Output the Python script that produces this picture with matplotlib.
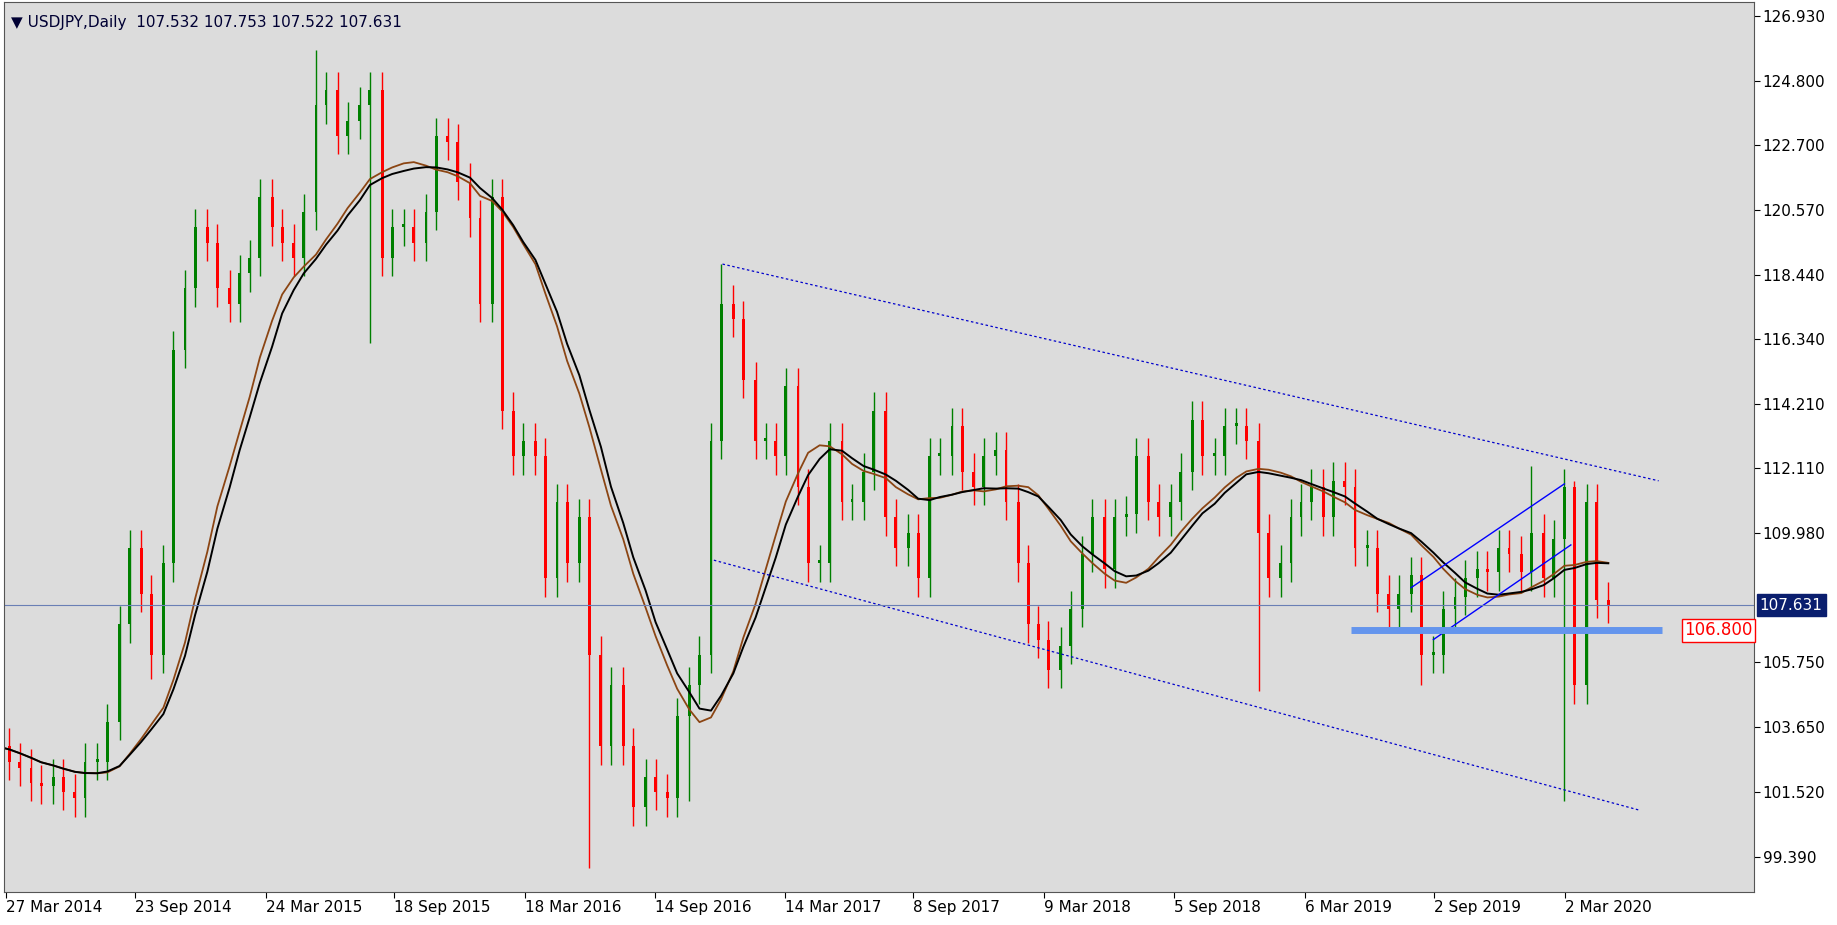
import matplotlib
matplotlib.use("Agg")
import matplotlib.pyplot as plt
import matplotlib.dates as mdates
import numpy as np
import pandas as pd

closes = [103.0,
 102.5,102.3,101.8,101.7,102.0,101.5,101.3,102.5,102.5,103.8,107.0,109.5,108.0,106.0,109.0,116.0,118.0,120.0,119.5,
 118.0,117.5,118.5,119.0,121.0,120.0,119.5,119.0,120.5,124.0,124.5,123.0,123.5,124.0,124.5,119.0,120.0,120.0,119.5,120.5,123.0,122.8,121.5,120.3,
 117.5,121.0,114.0,112.5,113.0,112.5,108.5,111.0,109.0,110.5,106.0,103.0,105.0,103.0,101.0,102.0,101.5,101.3,104.0,105.0,106.0,113.0,117.5,117.0,
 115.0,113.0,113.0,112.5,114.8,111.5,109.0,109.0,113.0,111.0,111.0,112.0,114.0,110.5,109.5,110.0,108.5,112.5,112.5,113.5,112.0,111.5,112.5,112.7,
 111.0,109.0,107.0,106.5,105.5,106.3,107.5,109.3,110.5,108.8,110.5,110.6,112.5,111.0,110.5,111.0,112.0,113.7,112.5,112.5,113.5,113.5,113.0,110.0,
 108.5,109.0,110.5,111.0,111.5,110.5,111.7,111.5,109.5,109.5,108.0,107.5,108.0,108.6,106.0,106.0,107.5,107.9,108.5,108.8,108.7,109.5,109.3,108.7,
 110.0,108.5,109.8,111.5,105.0,111.0,107.8,107.631]
spike_lows = {"2014-10-15": 105.2, "2015-08-15": 116.2, "2016-06-15": 99.0, "2016-11-01": 101.2,
              "2019-01-01": 104.8, "2019-08-15": 105.0, "2020-03-01": 101.2}
spike_highs = {"2015-06-01": 125.8, "2016-12-15": 118.8, "2020-01-15": 112.2, "2020-03-15": 111.7}
yticks = [126.930,124.800,122.700,120.570,118.440,116.340,114.210,112.110,109.980,105.750,103.650,101.520,99.390]
date_labels = ["27 Mar 2014","23 Sep 2014","24 Mar 2015","18 Sep 2015","18 Mar 2016","14 Sep 2016",
               "14 Mar 2017","8 Sep 2017","9 Mar 2018","5 Sep 2018","6 Mar 2019","2 Sep 2019","2 Mar 2020"]
date_pos = ["2014-03-27","2014-09-23","2015-03-24","2015-09-18","2016-03-18","2016-09-14",
            "2017-03-14","2017-09-08","2018-03-09","2018-09-05","2019-03-06","2019-09-02","2020-03-02"]

dates = pd.date_range("2014-03-15", periods=len(closes), freq="SMS")
s = pd.Series(closes, index=dates)
opens = s.shift(1).fillna(s.iloc[0])
highs = np.maximum(opens, s) + 0.6
lows = np.minimum(opens, s) - 0.6
for d, v in spike_lows.items():
    i = dates.get_indexer([pd.Timestamp(d)], method="nearest")[0]; lows.iloc[i] = v
for d, v in spike_highs.items():
    i = dates.get_indexer([pd.Timestamp(d)], method="nearest")[0]; highs.iloc[i] = v

fig = plt.figure(figsize=(18.37, 9.25), dpi=100, facecolor="white")
ax = fig.add_axes([0.002, 0.036, 0.953, 0.962])
ax.set_facecolor("#dcdcdc")
x = mdates.date2num(dates)
for xi, o, c, h, l in zip(x, opens, s, highs, lows):
    col = "#008000" if c >= o else "#ff0000"
    ax.vlines(xi, l, h, color=col, lw=1)
    ax.bar(xi, abs(c - o) if abs(c-o) > 0.05 else 0.1, bottom=min(o, c), width=4, color=col, lw=0)

ma1 = s.rolling(10, min_periods=1).mean().ewm(span=4, adjust=False).mean()
ma2 = s.rolling(11, min_periods=1).mean().ewm(span=4, adjust=False).mean()
ax.plot(x, ma1, color="#8b4513", lw=1.3)
ax.plot(x, ma2, color="black", lw=1.4)

d = lambda t: mdates.date2num(pd.Timestamp(t))
ax.plot([d("2016-12-17"), d("2020-07-10")], [118.8, 111.7], ls=(0, (2, 2)), color="#0000cc", lw=0.9)
ax.plot([d("2016-12-05"), d("2020-06-15")], [109.1, 100.9], ls=(0, (2, 2)), color="#0000cc", lw=0.9)
ax.plot([d("2019-08-01"), d("2020-03-01")], [108.2, 111.6], color="#0000ff", lw=1)
ax.plot([d("2019-09-01"), d("2020-03-10")], [106.5, 109.6], color="#0000ff", lw=1)
ax.plot([d("2019-05-10"), d("2020-07-15")], [106.8, 106.8], color="#6495ed", lw=5, solid_capstyle="butt")
ax.axhline(107.631, color="#6a7fb5", lw=0.8)

ax.set_ylim(98.24, 127.39)
ax.set_xlim(d("2014-03-24"), d("2020-11-20"))
ax.yaxis.tick_right()
ax.set_yticks(yticks)
ax.set_yticklabels([f"{v:.3f}" for v in yticks], fontsize=11)
ax.set_xticks([d(t) for t in date_pos])
ax.set_xticklabels(date_labels, fontsize=11, ha="left")
ax.tick_params(direction="out", length=4, pad=2)
for sp in ax.spines.values():
    sp.set_color("#555555")
ax.text(0.004, 0.985, "▼ USDJPY,Daily  107.532 107.753 107.522 107.631", transform=ax.transAxes,
        fontsize=11, va="top", color="#000033")
ax.text(1.003, 107.631, "107.631", transform=ax.get_yaxis_transform(), fontsize=11, color="white",
        va="center", bbox=dict(boxstyle="square,pad=0.2", fc="#0a1e6e", ec="#0a1e6e"))
ax.text(d("2020-08-15"), 106.8, "106.800", fontsize=12, color="red", va="center",
        bbox=dict(boxstyle="square,pad=0.15", fc="white", ec="red"))
fig.savefig("out.png", dpi=100, facecolor="white")
